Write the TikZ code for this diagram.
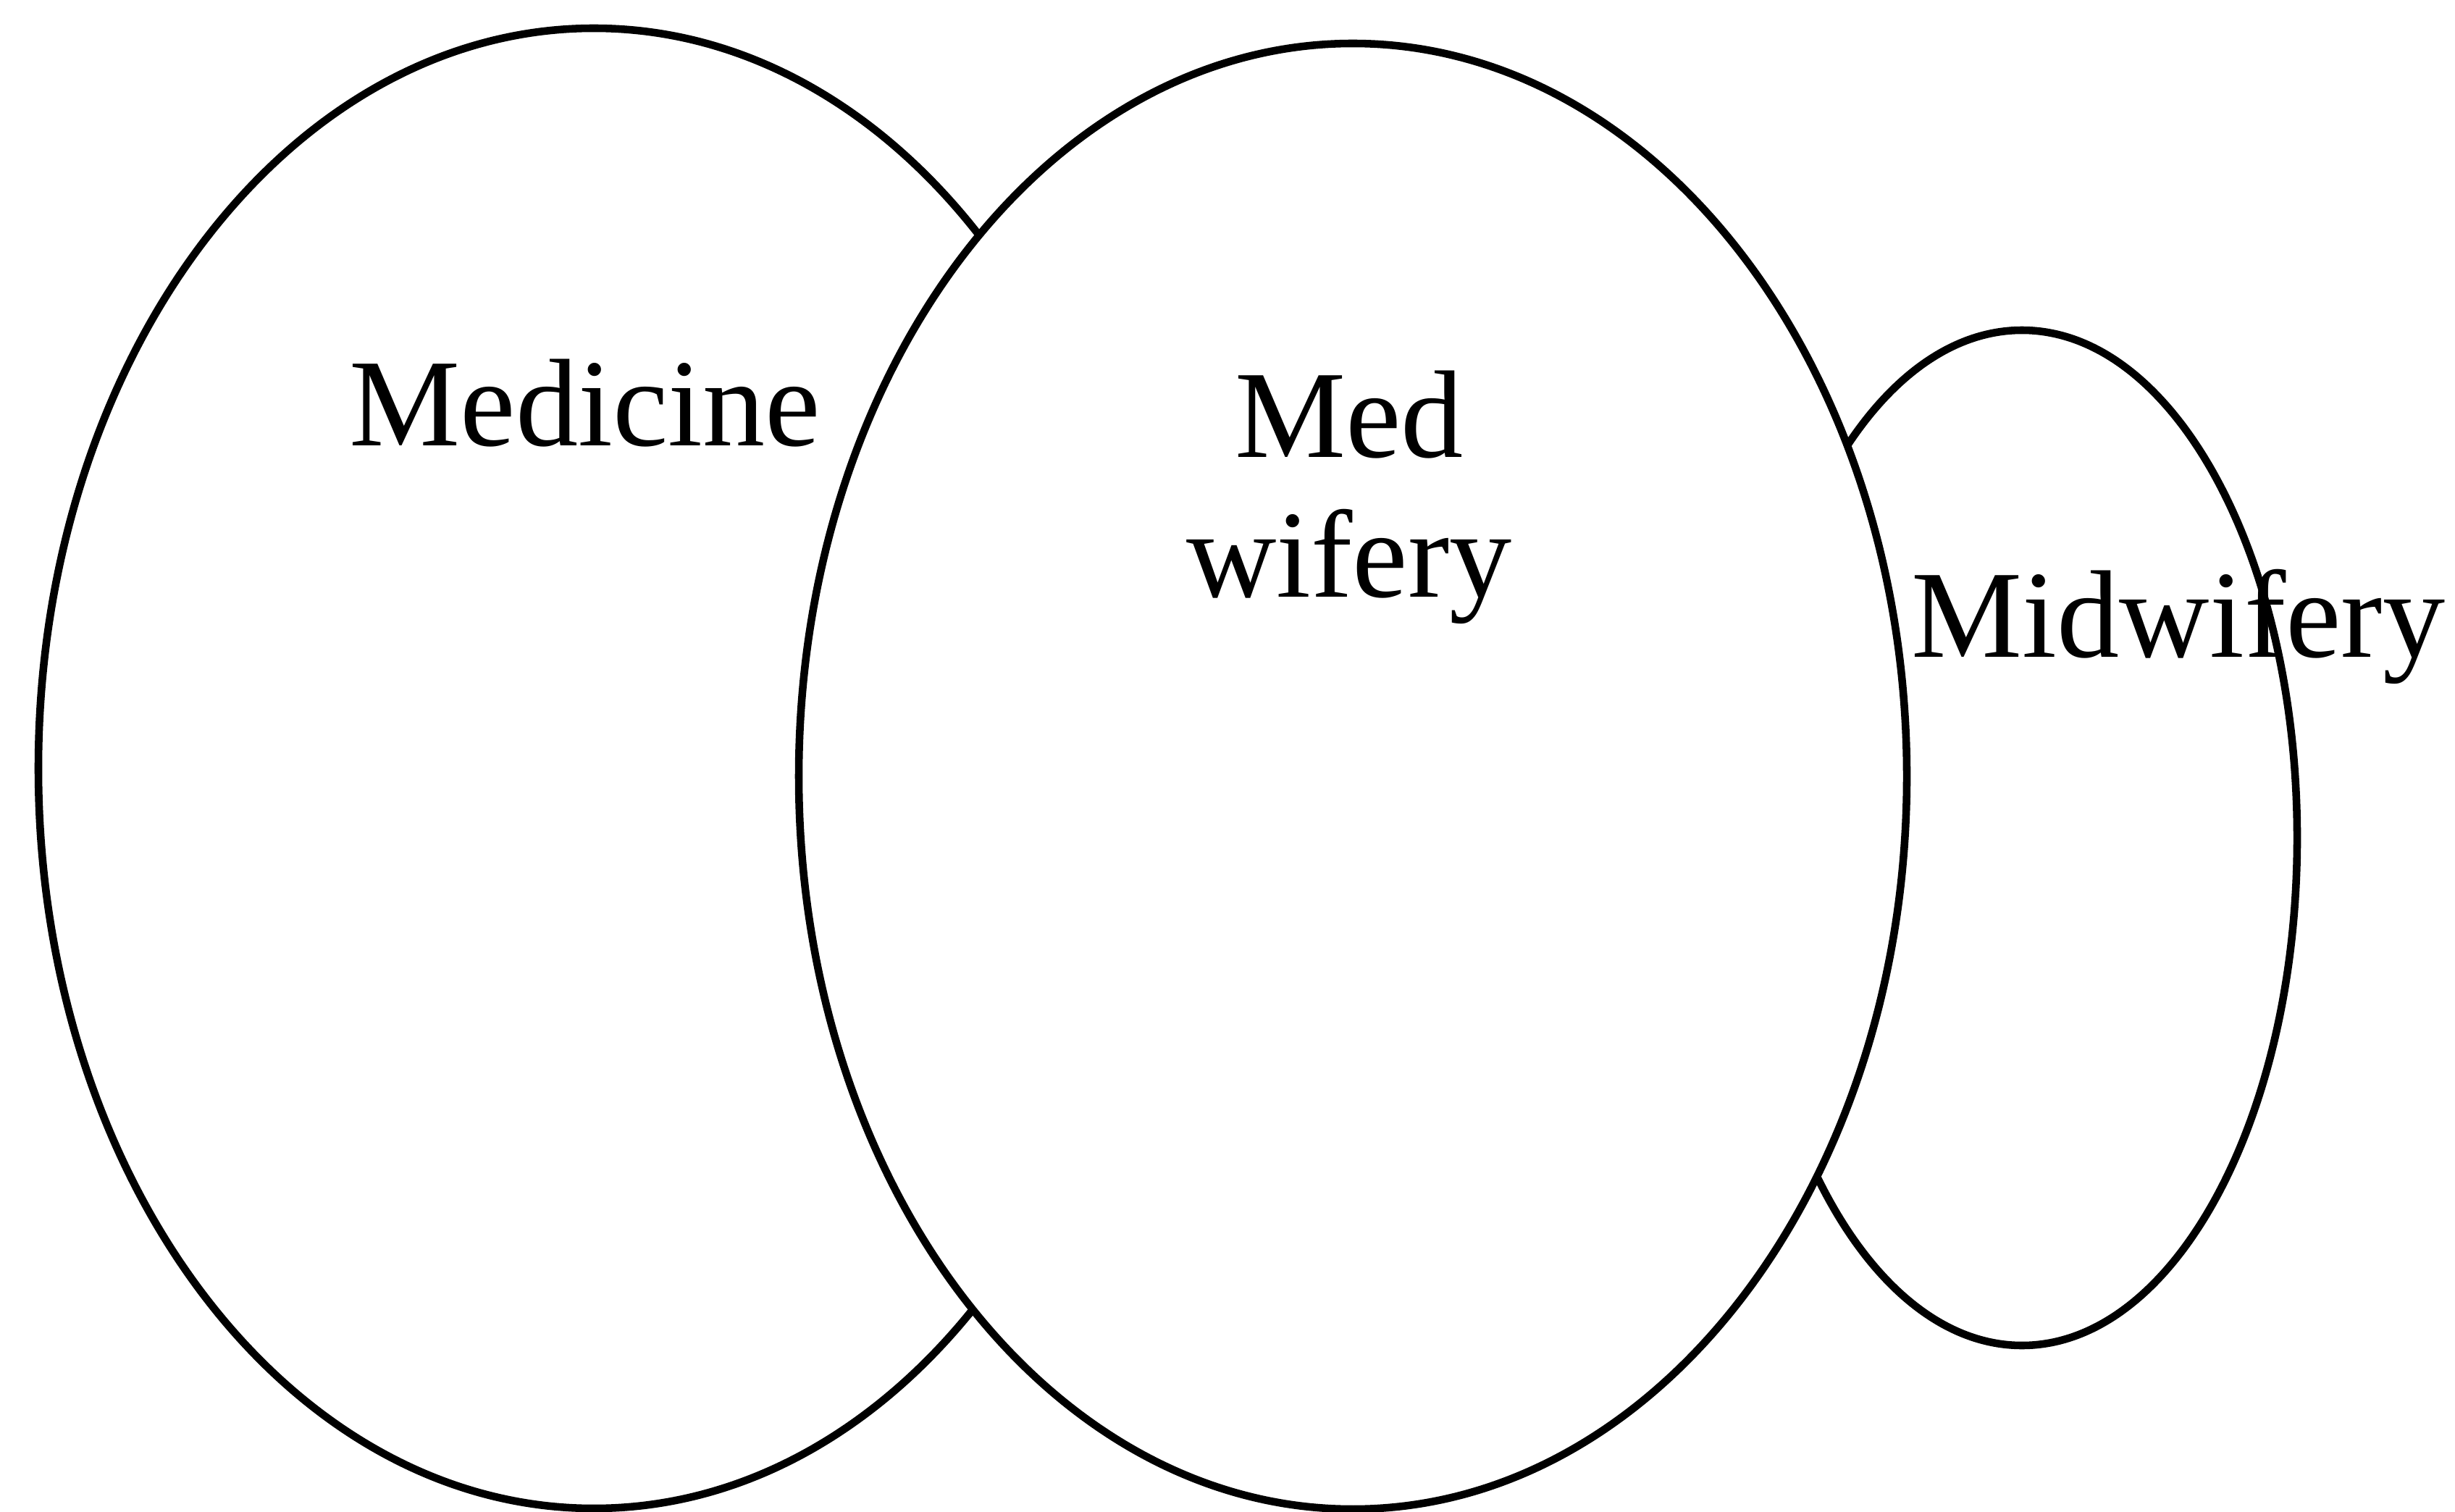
\documentclass[tikz,border=0pt]{standalone}
\usepackage{fontspec}
\setmainfont{Liberation Serif}
\usetikzlibrary{shapes.geometric}

\tikzset{
    field/.style={draw, ellipse, line width=3pt, inner sep=0pt},
    fieldlabel/.style={font=\fontsize{49}{55}\selectfont, inner sep=0pt, align=center}
}

\begin{document}
\begin{tikzpicture}
     \useasboundingbox (0,0) rectangle (33.9,-20.88);

     % Medicine
     \node[field, minimum width=15.34cm, minimum height=20.44cm] (medicine) at (8.20,-10.61) {};

     % Midwifery
     \node[field, minimum width=7.60cm, minimum height=14.02cm] (midwifery) at (27.92,-11.57) {};

     % Med wifery (on top, white inside)
     \node[field, fill=white, minimum width=15.30cm, minimum height=20.24cm] (medwifery) at (18.68,-10.72) {};

     % Labels
     \node[fieldlabel, anchor=base] (medicinetext) at (8.08,-6.16) {Medicine};
     \node[fieldlabel, anchor=base] (medwiferytext) at (18.63,-8.25) {Med\\wifery};
     \node[fieldlabel, anchor=base] (midwiferytext) at (30.08,-9.07) {Midwifery};

\end{tikzpicture}
\end{document}
